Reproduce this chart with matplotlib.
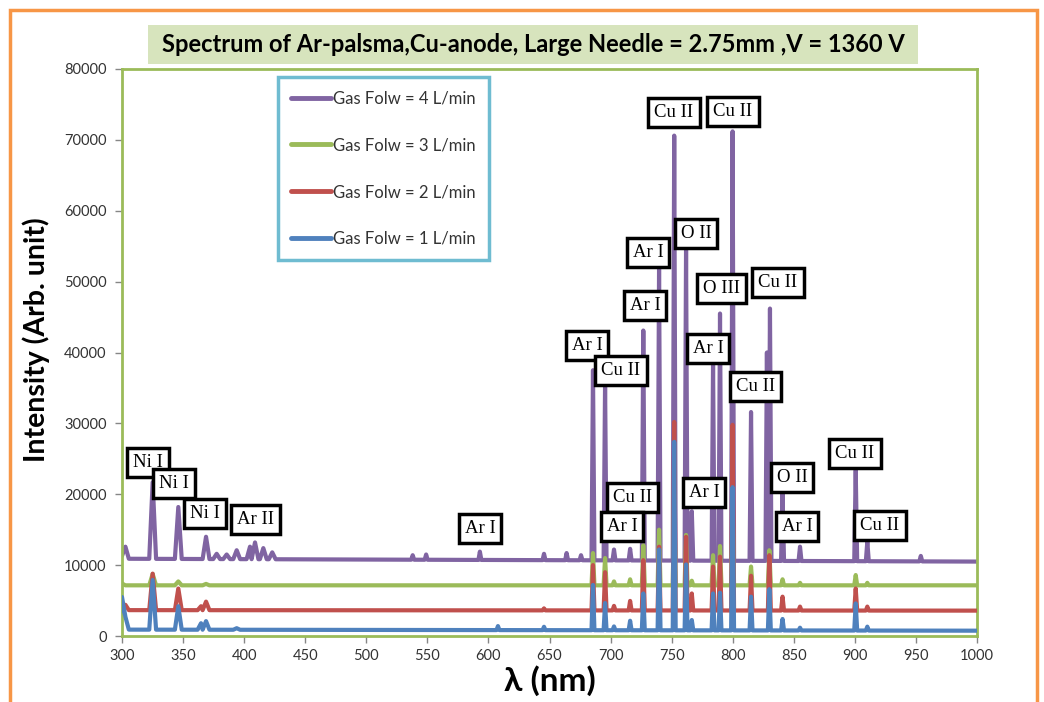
import numpy as np
import matplotlib
matplotlib.use("Agg")
import matplotlib.pyplot as plt
from matplotlib.patches import Rectangle

# ---------------------------------------------------------------------
# data: (wavelength nm, peak top intensity)
peaks_4 = [(300, 11300), (302.8, 12600), (325.1, 21700), (346.1, 18200), (368.8, 14000),
           (377.5, 11600), (385.7, 11500), (393.9, 12100), (404.8, 12600), (408.9, 13200),
           (415.7, 12400), (423.0, 11800), (538.0, 11400), (549.0, 11500), (593.0, 11900),
           (645.5, 11600), (664.0, 11700), (675.8, 11400), (685.6, 37500), (695.5, 35600),
           (702.8, 12200), (716.0, 12300), (726.8, 43100), (739.7, 51900), (752.1, 70600),
           (761.8, 54600), (766.5, 17600), (783.9, 38500), (789.6, 45500), (799.9, 71200),
           (815.0, 31600), (828.0, 40000), (830.5, 46200), (840.8, 20100), (855.1, 12600),
           (900.7, 23400), (910.2, 13300), (954.0, 11300)]
peaks_3 = [(300, 7400), (325.1, 8750), (346.1, 7700), (368.8, 7350), (685.6, 11700),
           (695.5, 11000), (702.8, 7700), (716.0, 8000), (726.8, 12800), (739.7, 15000),
           (752.1, 20000), (761.8, 14250), (766.5, 7800), (783.9, 11400), (789.6, 12700),
           (799.9, 18000), (815.0, 9800), (830.0, 12100), (840.8, 8000), (855.1, 7500),
           (900.7, 8600), (910.2, 7500)]
peaks_2 = [(300, 4300), (302.8, 4400), (325.1, 8800), (346.1, 6700), (364.7, 4200),
           (368.8, 4850), (645.5, 3900), (685.6, 10000), (695.5, 9000), (702.8, 4250),
           (716.0, 4950), (726.8, 10700), (739.7, 12600), (752.1, 30200), (761.8, 14000),
           (766.5, 6000), (783.9, 9800), (789.6, 11200), (799.9, 29800), (815.0, 8500),
           (830.0, 11400), (840.8, 5550), (855.1, 4150), (900.7, 6700), (910.2, 4150)]
peaks_1 = [(300, 5500), (302.8, 2700), (325.1, 7900), (346.1, 4200), (364.7, 1800),
           (368.8, 2100), (393.9, 1100), (607.8, 1400), (645.5, 1300), (685.6, 7200),
           (695.5, 4650), (702.8, 1350), (716.0, 2150), (726.8, 6000), (739.7, 12200),
           (752.1, 27400), (761.8, 10100), (766.5, 2250), (783.9, 6000), (789.6, 6100),
           (799.9, 21000), (815.0, 5550), (830.0, 6600), (840.8, 2400), (855.1, 1170),
           (900.7, 4600), (910.2, 1320)]
# baseline at 300 nm and at 1000 nm
baselines = {4: (10900, 10500), 3: (7150, 7150), 2: (3650, 3580), 1: (900, 750)}

series_labels = ['Gas Folw = 4 L/min', 'Gas Folw = 3 L/min',
                 'Gas Folw = 2 L/min', 'Gas Folw = 1 L/min']

# line identifications: (text, wavelength, intensity of label centre)
line_ids = [('Ni I', 321.3, 24550), ('Ni I', 342.6, 21450), ('Ni I', 368.0, 17350),
            ('Ar II', 409.7, 16370), ('Ar I', 593.1, 15100), ('Ar I', 680.7, 40920),
            ('Cu II', 708.5, 37530), ('Ar I', 728.2, 46700), ('Ar I', 730.7, 54040),
            ('Cu II', 751.9, 73930), ('O II', 770.0, 56720), ('Cu II', 800.2, 74070),
            ('O III', 791.2, 48960), ('Cu II', 837.1, 49810), ('Ar I', 779.8, 40630),
            ('Cu II', 818.3, 35270), ('Cu II', 717.6, 19610), ('Ar I', 709.4, 15520),
            ('Ar I', 776.5, 20180), ('O II', 848.5, 22430), ('Ar I', 852.6, 15380),
            ('Cu II', 900.1, 25820), ('Cu II', 920.6, 15660)]


def spectrum(peaks, base):
    """polyline through the read peak tops, back to the baseline between them"""
    b0, b1 = base
    bl = lambda x: b0 + (b1 - b0) * (x - 300) / 700.0
    hw = lambda c: 2.8 if c < 450 else 1.2
    xs, ys = [], []
    for i, (c, h) in enumerate(peaks):
        left = c - hw(c)
        if not xs or left > xs[-1]:
            xs.append(left); ys.append(bl(left))
        xs.append(c); ys.append(h)
        right = c + hw(c)
        if i == len(peaks) - 1 or right < peaks[i + 1][0] - hw(peaks[i + 1][0]):
            xs.append(right); ys.append(bl(right))
    xs.append(1000); ys.append(b1)
    return np.array(xs), np.array(ys)


plt.rcParams['font.family'] = ['Lato', 'DejaVu Sans']

fig = plt.figure(figsize=(10.44, 7.02), dpi=100)
ax = fig.add_axes([122 / 1044, 66 / 702, 855 / 1044, 567 / 702])

colors = {4: '#8064A2', 3: '#9BBB59', 2: '#C0504D', 1: '#4F81BD'}
all_peaks = {4: peaks_4, 3: peaks_3, 2: peaks_2, 1: peaks_1}
handles = []
for k, lab in zip([4, 3, 2, 1], series_labels):
    x, y = spectrum(all_peaks[k], baselines[k])
    h, = ax.plot(x, y, color=colors[k], lw=3.0, solid_joinstyle='round',
                 solid_capstyle='round', zorder=6 - k, label=lab)
    handles.append(h)

ax.set_xlim(300, 1000)
ax.set_ylim(0, 80000)
ax.set_xticks(np.arange(300, 1001, 50))
ax.set_yticks(np.arange(0, 80001, 10000))
ax.tick_params(axis='both', direction='out', length=5, width=1, color='#868686',
               labelsize=10.5, labelcolor='#333333')
ax.tick_params(axis='y', pad=6)
ax.tick_params(axis='x', pad=4)
for s in ax.spines.values():
    s.set_color('#9BBB59')
    s.set_linewidth(2)

ax.set_xlabel('λ (nm)', fontsize=24, fontweight='bold', labelpad=2)
ax.set_ylabel('Intensity (Arb. unit)', fontsize=20.5, fontweight='bold')
ax.yaxis.set_label_coords(-0.084, 0.522)

for txt, xv, yv in line_ids:
    ax.text(xv, yv, txt, ha='center', va='center', fontsize=13.5,
            family=['Liberation Serif', 'DejaVu Serif'], zorder=10,
            bbox=dict(boxstyle='square,pad=0.32', fc='white', ec='black', lw=2.5))

leg = ax.legend(handles=handles, loc='upper left',
                bbox_to_anchor=((278 - 122) / 855, (636 - 77) / 567),
                fontsize=12, frameon=True, fancybox=False, labelspacing=1.85,
                handlelength=2.4, handletextpad=0.1, borderpad=0.8, borderaxespad=0)
leg.get_frame().set_edgecolor('#4BACC6')
leg.get_frame().set_linewidth(2.5)
for t in leg.get_texts():
    t.set_color('#333333')
for l in leg.get_lines():
    l.set_linewidth(3.5)

# title box
fig.add_artist(Rectangle((148 / 1044, 1 - 64 / 702), 770 / 1044, 39 / 702,
                         transform=fig.transFigure, fc='#D7E4BD', ec='none'))
fig.text(533 / 1044, 1 - 45 / 702,
         'Spectrum of Ar-palsma,Cu-anode, Large Needle = 2.75mm ,V = 1360 V',
         ha='center', va='center', fontsize=17, fontweight='bold', color='black')

# orange outer frame
fig.add_artist(Rectangle((10 / 1044, -0.05), 1027 / 1044, 1.05 - 10 / 702,
                         transform=fig.transFigure, fc='none', ec='#F79646', lw=2.5))

fig.savefig('out.png', dpi=100)
